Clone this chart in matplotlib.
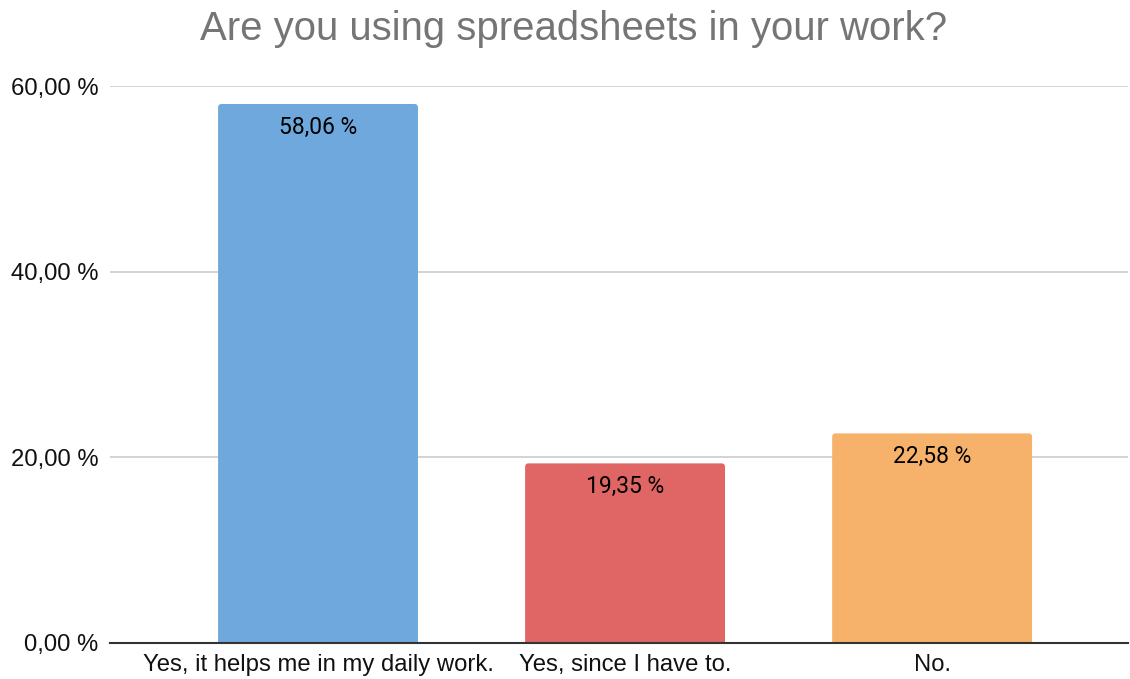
import matplotlib
matplotlib.use("Agg")
import matplotlib.pyplot as plt
from matplotlib.path import Path
from matplotlib.patches import PathPatch
from matplotlib.ticker import FuncFormatter

title = "Are you using spreadsheets in your work?"
categories = ["Yes, it helps me in my daily work.", "Yes, since I have to.", "No."]
values = [58.06, 19.35, 22.58]
colors = ["#6fa8dc", "#e06666", "#f6b26b"]
yticks = [0, 20, 40, 60]

fig = plt.figure(figsize=(11.30, 6.79), dpi=100)
ax = fig.add_axes([110 / 1130, 1 - 643 / 679, 1018 / 1130, 557 / 679])

x = list(range(len(categories)))
bar_w = 0.651
ax.set_xlim(-0.6775, 2.638)
ax.set_ylim(0, 60)

bars = ax.bar(x, values, width=bar_w, color=colors, zorder=3)

# rounded top corners (radius in pixels converted to data units)
fig.canvas.draw()
px_x = (ax.get_xlim()[1] - ax.get_xlim()[0]) / ax.bbox.width
px_y = (ax.get_ylim()[1] - ax.get_ylim()[0]) / ax.bbox.height
r = 3.5
for b, c in zip(bars, colors):
    x0, w, h = b.get_x(), b.get_width(), b.get_height()
    rx, ry = r * px_x, r * px_y
    verts = [(x0, 0), (x0, h - ry), (x0, h), (x0 + rx, h),
             (x0 + w - rx, h), (x0 + w, h), (x0 + w, h - ry),
             (x0 + w, 0), (x0, 0)]
    codes = [Path.MOVETO, Path.LINETO, Path.CURVE3, Path.CURVE3,
             Path.LINETO, Path.CURVE3, Path.CURVE3, Path.LINETO, Path.CLOSEPOLY]
    b.set_visible(False)
    ax.add_patch(PathPatch(Path(verts, codes), facecolor=c, edgecolor="none", zorder=3))
    ax.annotate(f"{h:.2f} %".replace(".", ","), (x0 + w / 2, h),
                xytext=(0, -8.5), textcoords="offset points",
                ha="center", va="top", fontsize=16.5, family="Roboto",
                color="#000000", zorder=4)

ax.set_yticks(yticks)
ax.yaxis.set_major_formatter(FuncFormatter(lambda v, _: f"{v:.2f} %".replace(".", ",")))
ax.set_xticks(x)
ax.set_xticklabels(categories)
ax.tick_params(axis="both", length=0, labelsize=17.2, colors="#111111")
ax.tick_params(axis="y", pad=8.5)
ax.tick_params(axis="x", pad=8)
for lbl in ax.get_xticklabels() + ax.get_yticklabels():
    lbl.set_family("Liberation Sans")

ax.grid(axis="y", color="#cccccc", linewidth=1.2, zorder=0)
for s in ["top", "right", "left"]:
    ax.spines[s].set_visible(False)
ax.spines["bottom"].set_color("#333333")
ax.spines["bottom"].set_linewidth(1.5)
ax.spines["bottom"].set_zorder(5)

fig.text(574 / 1130, 1 - 29 / 679, title, ha="center", va="center",
         fontsize=28.9, family="Liberation Sans", color="#757575")

fig.savefig("out.png", dpi=100)
